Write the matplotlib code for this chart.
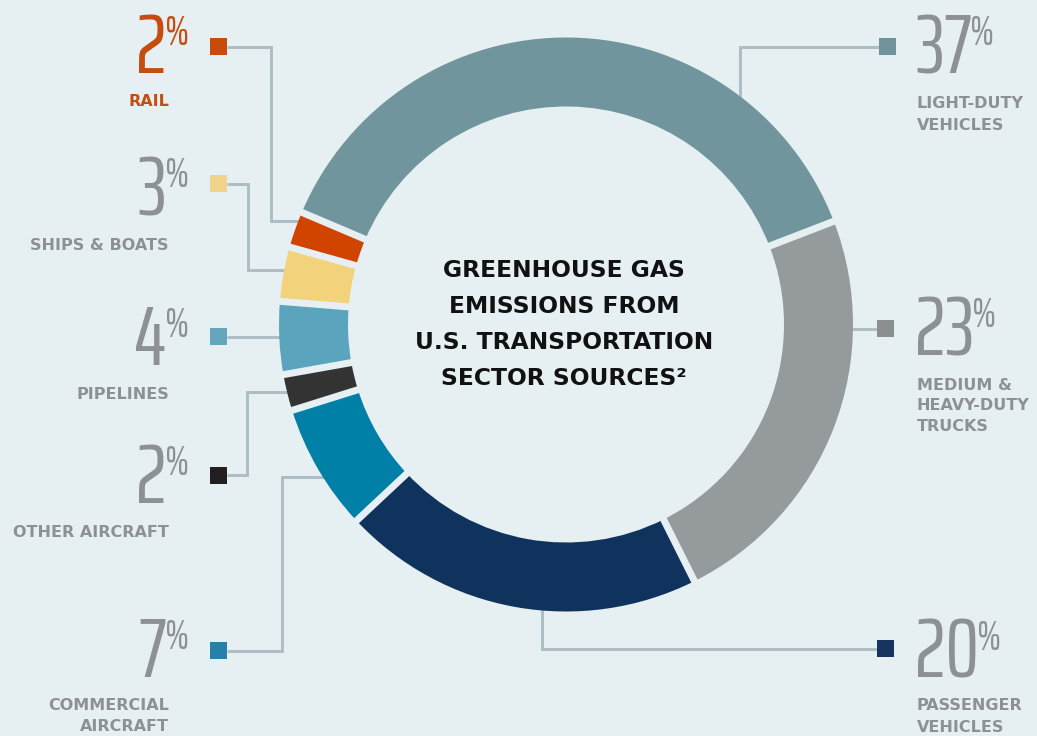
import numpy as np
import matplotlib
matplotlib.use("Agg")
import matplotlib.pyplot as plt
from matplotlib import font_manager as fm
from matplotlib.patches import Rectangle

# ---------------- data ----------------
categories = ["LIGHT-DUTY\nVEHICLES", "MEDIUM &\nHEAVY-DUTY\nTRUCKS", "PASSENGER\nVEHICLES",
              "COMMERCIAL\nAIRCRAFT", "OTHER AIRCRAFT", "PIPELINES", "SHIPS & BOATS", "RAIL"]
values = [37, 23, 20, 7, 2, 4, 3, 2]
pct_labels = ["37", "23", "20", "7", "2", "4", "3", "2"]
ring_colors = ["#71959c", "#959b9c", "#10335e", "#0080a6", "#333333", "#5aa5bd", "#f2d27a", "#d14400"]
square_colors = ["#72939b", "#8c8f92", "#17345e", "#2680a8", "#231f20", "#65a6bd", "#f0d48a", "#c84b0c"]
GRAY = "#8e9194"
ORANGE = "#c64d10"
text_colors = [GRAY] * 7 + [ORANGE]
title_lines = ["GREENHOUSE GAS", "EMISSIONS FROM", "U.S. TRANSPORTATION", "SECTOR SOURCES\u00b2"]

BG = "#e6eff2"
LINE = "#adbdc4"

# ---------------- layout (image pixel coords) ----------------
W, H = 1037, 736
def Y(y):
    return H - y

# side, number baseline, first label baseline, label line spacing, square center
layout = [
    ("R", 73, 108, 21.5, (887, 46.5)),
    ("R", 355, 390, 20.5, (885.5, 328.5)),
    ("R", 678, 710, 21.5, (885.5, 648.5)),
    ("L", 677, 710, 21.0, (218.5, 650.5)),
    ("L", 503, 537, 21.0, (218.5, 475)),
    ("L", 365, 399, 21.0, (218.5, 336.5)),
    ("L", 215, 250, 21.0, (218.5, 183.5)),
    ("L", 73, 106, 21.0, (218.5, 46.5)),
]
leaders = [
    [(879, 46.5), (740, 46.5), (740, 120)],
    [(877, 328.5), (840, 328.5)],
    [(877, 648.5), (542, 648.5), (542, 595)],
    [(227, 650.5), (281.5, 650.5), (281.5, 477), (335, 477)],
    [(227, 475), (246.5, 475), (246.5, 392), (295, 392)],
    [(227, 336.5), (290, 336.5)],
    [(227, 183.5), (248, 183.5), (248, 270), (295, 270)],
    [(227, 46.5), (271, 46.5), (271, 221), (305, 221)],
]

# ---------------- fonts ----------------
def pick_condensed():
    best = None
    for f in fm.fontManager.ttflist:
        st = str(f.stretch)
        name = f.name
        if st in ("ultra-condensed", "extra-condensed") or "ExtraCondensed" in name:
            r = 0
        elif "Narrow" in name:
            r = 1
        elif st == "condensed" or "Condensed" in name:
            r = 2
        elif st == "semi-condensed":
            r = 3
        else:
            continue
        if str(f.style) != "normal":
            continue
        try:
            w = int(f.weight)
        except Exception:
            w = {"normal": 400, "regular": 400, "light": 300, "bold": 700}.get(str(f.weight), 500)
        score = (r, abs(w - 400))
        if best is None or score < best[0]:
            best = (score, f.fname)
    if best is None:
        return fm.FontProperties(family="DejaVu Sans")
    return fm.FontProperties(fname=best[1])

num_base = pick_condensed()

def numfp(size):
    fp = num_base.copy()
    fp.set_size(size)
    return fp

NUM_SIZE = 61
PCT_SIZE = 31
LABEL_FP = fm.FontProperties(family="DejaVu Sans", weight="bold", size=11.5)
TITLE_FP = fm.FontProperties(family="DejaVu Sans", weight="bold", size=16.8)

# ---------------- figure ----------------
fig = plt.figure(figsize=(W / 100, H / 100), dpi=100, facecolor=BG)
ax = fig.add_axes([0, 0, 1, 1])
ax.set_facecolor(BG)

CX, CY = 566, Y(324.5)
R_out, ring_w = 287, 69
START = 157
ax.pie(values, colors=ring_colors, startangle=START, counterclock=False,
       radius=R_out, center=(CX, CY),
       wedgeprops=dict(width=ring_w, edgecolor="none", linewidth=0))
for w in ax.patches:
    w.set_zorder(2)

# constant-width gaps between segments
gap_px = 7
bounds = START - 360 * np.cumsum([0] + values[:-1]) / float(sum(values))
for a in bounds:
    t = np.deg2rad(a)
    r0, r1 = R_out - ring_w - 3, R_out + 3
    ax.plot([CX + r0 * np.cos(t), CX + r1 * np.cos(t)],
            [CY + r0 * np.sin(t), CY + r1 * np.sin(t)],
            color=BG, lw=gap_px * 0.72, solid_capstyle="butt", zorder=2.5)

ax.set_xlim(0, W)
ax.set_ylim(0, H)
ax.set_aspect("auto")
ax.axis("off")

# leader lines (drawn under the ring)
for path in leaders:
    xs = [p[0] for p in path]
    ys = [Y(p[1]) for p in path]
    ax.plot(xs, ys, color=LINE, lw=2.1, zorder=1, solid_joinstyle="miter",
            solid_capstyle="butt")

# squares
SQ = 17
for (side, nb, lb, sp, (cx, cy)), sc in zip(layout, square_colors):
    ax.add_patch(Rectangle((cx - SQ / 2, Y(cy) - SQ / 2), SQ, SQ, facecolor=sc,
                           edgecolor="none", zorder=3))

# title
title_base = [277, 313, 349, 385]
for line, yb in zip(title_lines, title_base):
    ax.text(564, Y(yb), line, ha="center", va="baseline", fontproperties=TITLE_FP,
            color="#111111", zorder=4)

fig.canvas.draw()
renderer = fig.canvas.get_renderer()
inv = ax.transData.inverted()

for cat, pct, col, (side, nb, lb, sp, sq) in zip(categories, pct_labels, text_colors, layout):
    if side == "L":
        p = ax.text(189, Y(nb - 28), "%", ha="right", va="baseline",
                    fontproperties=numfp(PCT_SIZE), color=col, zorder=4)
        bb = p.get_window_extent(renderer)
        x0 = inv.transform((bb.x0, bb.y0))[0]
        ax.text(x0 + 2, Y(nb), pct, ha="right", va="baseline",
                fontproperties=numfp(NUM_SIZE), color=col, zorder=4)
        for i, ln in enumerate(cat.split("\n")):
            ax.text(169, Y(lb + i * sp), ln, ha="right", va="baseline",
                    fontproperties=LABEL_FP, color=col, zorder=4)
    else:
        d = ax.text(915, Y(nb), pct, ha="left", va="baseline",
                    fontproperties=numfp(NUM_SIZE), color=col, zorder=4)
        bb = d.get_window_extent(renderer)
        x1 = inv.transform((bb.x1, bb.y0))[0]
        ax.text(x1 - 2, Y(nb - 28), "%", ha="left", va="baseline",
                fontproperties=numfp(PCT_SIZE), color=col, zorder=4)
        for i, ln in enumerate(cat.split("\n")):
            ax.text(917, Y(lb + i * sp), ln, ha="left", va="baseline",
                    fontproperties=LABEL_FP, color=col, zorder=4)

fig.savefig("out.png", dpi=100, facecolor=BG)
